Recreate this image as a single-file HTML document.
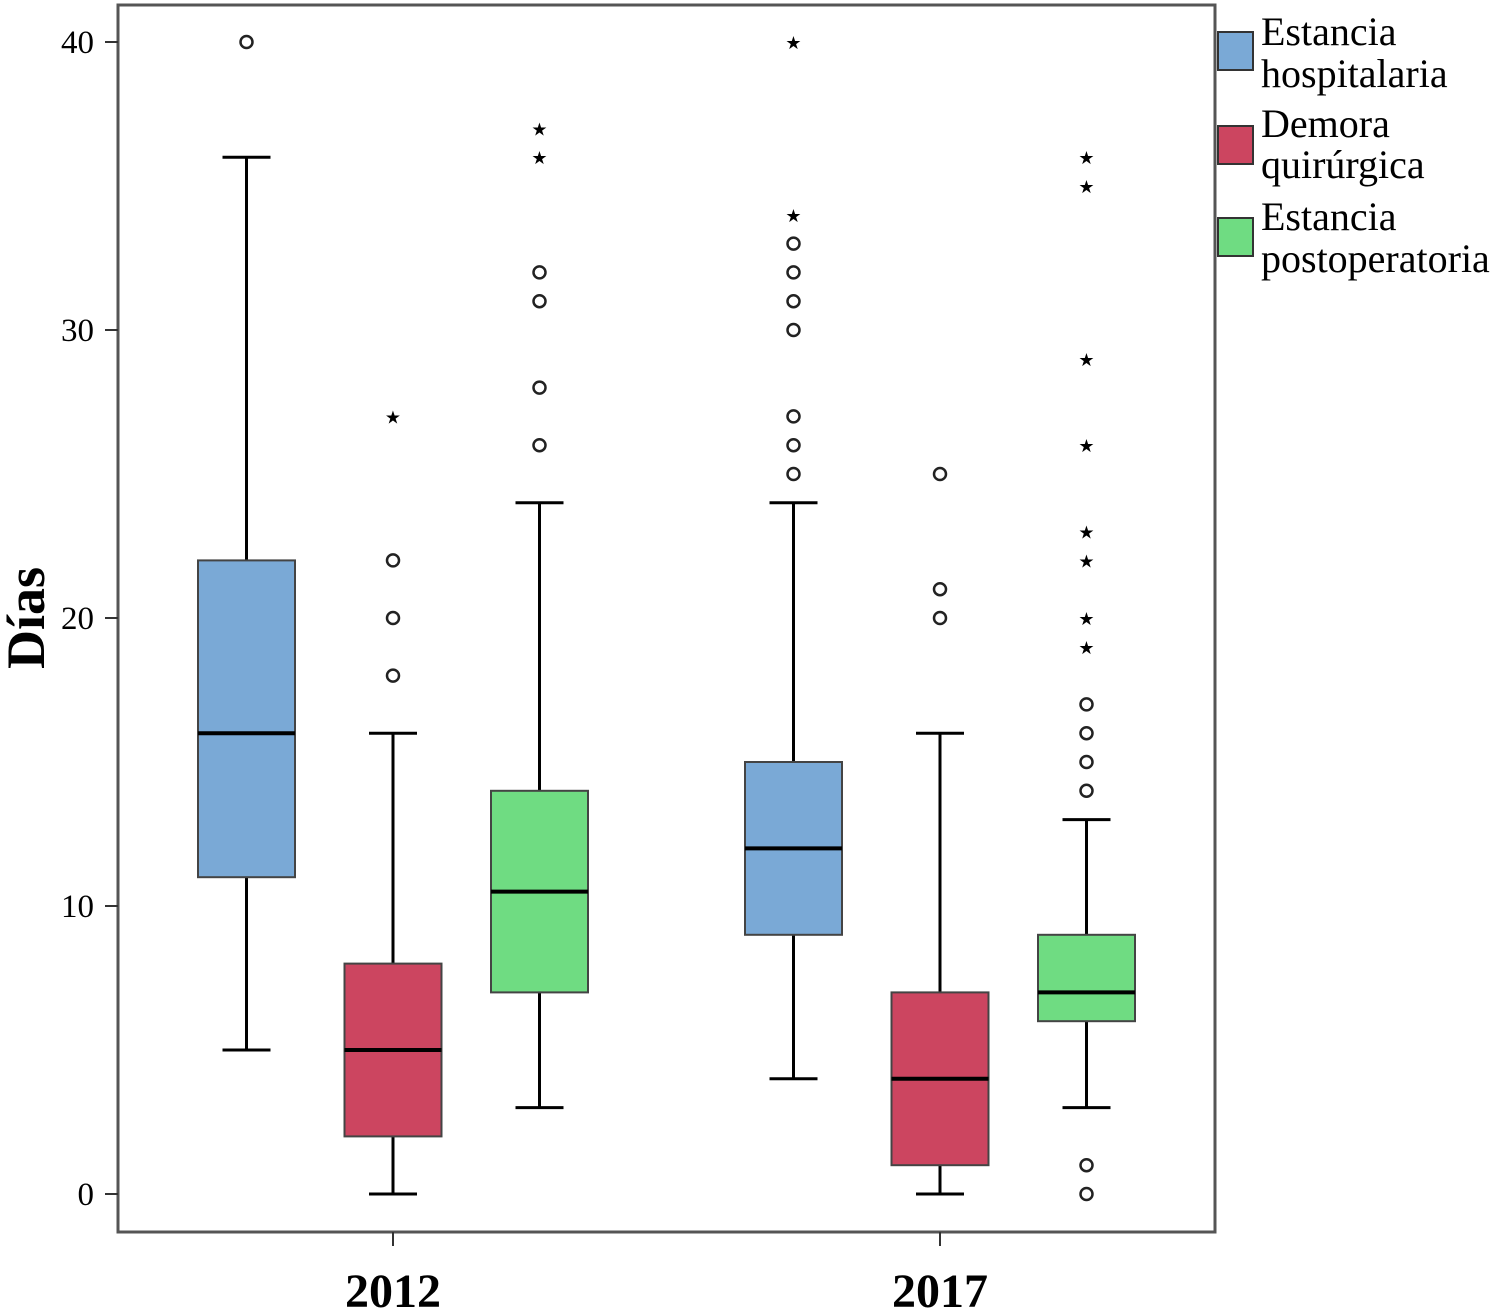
<!DOCTYPE html>
<html><head><meta charset="utf-8"><style>
body{margin:0;background:#fff;}
svg{display:block;font-family:"Liberation Serif",serif;}
</style></head><body>
<svg id="c" width="1500" height="1315">
<rect x="118" y="5" width="1097" height="1227" fill="#fff" stroke="#555" stroke-width="3"/>
<g id="g"></g>
<text x="0" y="0" transform="translate(44,618) rotate(-90)" text-anchor="middle" font-size="54" font-weight="bold">Días</text>
<g font-size="40">
<rect x="1218" y="32" width="35" height="38" fill="#7aa9d6" stroke="#333" stroke-width="2"/>
<text x="1261" y="45">Estancia</text>
<text x="1261" y="87">hospitalaria</text>
<rect x="1218" y="126" width="35" height="38" fill="#cc4560" stroke="#333" stroke-width="2"/>
<text x="1261" y="137">Demora</text>
<text x="1261" y="178">quirúrgica</text>
<rect x="1218" y="218" width="35" height="38" fill="#6fdc82" stroke="#333" stroke-width="2"/>
<text x="1261" y="230">Estancia</text>
<text x="1261" y="272">postoperatoria</text>
</g>
</svg>
<script>
const years=["2012","2017"];
const series=["hospitalaria","demora","postoperatoria"];
const colors=["#7aa9d6","#cc4560","#6fdc82"];
// [min, q1, median, q3, max] per year per series
const stats2012=[[5,11,16,22,36],[0,2,5,8,16],[3,7,10.5,14,24]];
const stats2017=[[4,9,12,15,24],[0,1,4,7,16],[3,6,7,9,13]];
const circles2012=[[40],[18,20,22],[26,28,31,32]];
const stars2012=[[],[27],[36,37]];
const circles2017=[[25,26,27,30,31,32,33],[20,21,25],[0,1,14,15,16,17]];
const stars2017=[[34,40],[],[19,20,22,23,26,29,35,36]];
const yTicks=[0,10,20,30,40];

const NS="http://www.w3.org/2000/svg";
const g=document.getElementById('g');
const y=v=>1194-v*28.8;
const groupX=i=>393+i*547;
const boxX=(i,j)=>groupX(i)+(j-1)*146.5;
function mk(t,a){const e=document.createElementNS(NS,t);for(const k in a)e.setAttribute(k,a[k]);g.appendChild(e);return e;}
yTicks.forEach(t=>{
 const l=mk('line',{x1:105,x2:118,y1:y(t),y2:y(t),stroke:'#333','stroke-width':2});
 
 
 const tx=mk('text',{x:94,y:y(t)+11,'text-anchor':'end','font-size':33});
 tx.textContent=t;
 
 
});
years.forEach((yr,i)=>{
 const l=mk('line',{x1:groupX(i),x2:groupX(i),y1:1232,y2:1246,stroke:'#333','stroke-width':2});
 
 
 const tx=mk('text',{x:groupX(i),y:1307,'text-anchor':'middle','font-size':48,'font-weight':'bold'});
 tx.textContent=yr;
 
 
 const st=i?stats2017:stats2012, ci=i?circles2017:circles2012, sr=i?stars2017:stars2012;
 series.forEach((s,j)=>{
  const cx=boxX(i,j), d=st[j], w=97;
  const wl=mk('line',{x1:cx,x2:cx,y1:y(d[4]),y2:y(d[0]),stroke:'#000','stroke-width':3});
  
  
  [d[0],d[4]].forEach(v=>{const c=mk('line',{x1:cx-24,x2:cx+24,y1:y(v),y2:y(v),stroke:'#000','stroke-width':3});
   
   });
  const b=mk('rect',{x:cx-w/2,y:y(d[3]),width:w,height:y(d[1])-y(d[3]),fill:colors[j],stroke:'#444','stroke-width':2});
  
  
  const m=mk('line',{x1:cx-w/2,x2:cx+w/2,y1:y(d[2]),y2:y(d[2]),stroke:'#000','stroke-width':4});
  
  
  ci[j].forEach(v=>{const c=mk('circle',{cx:cx,cy:y(v),r:6,fill:'none',stroke:'#222','stroke-width':2.5});
   
   });
  sr[j].forEach(v=>{const t=mk('text',{x:cx,y:y(v)+7,'text-anchor':'middle','font-size':18});
   t.textContent='★';
   
   });
 });
});
</script>
</body></html>
